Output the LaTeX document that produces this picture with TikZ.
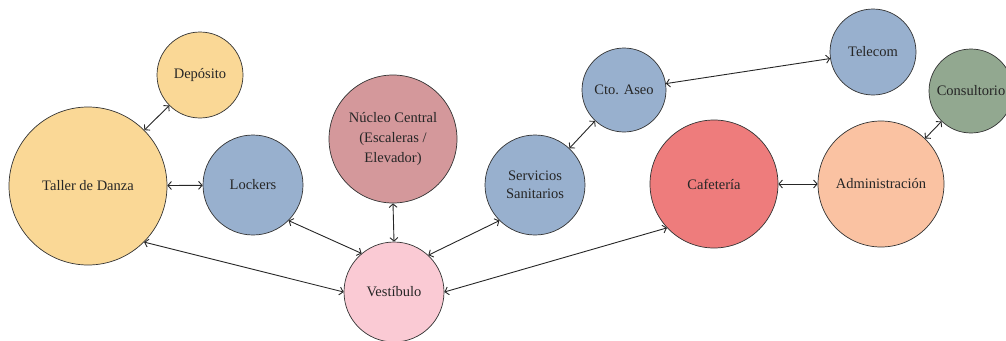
\documentclass[tikz,border=0pt]{standalone}
\usepackage{fontspec}
\setmainfont{Liberation Serif}
\usetikzlibrary{arrows.meta}
\definecolor{danza}{RGB}{250,216,150}
\definecolor{azul}{RGB}{152,176,206}
\definecolor{nucleo}{RGB}{212,152,155}
\definecolor{vestib}{RGB}{250,202,212}
\definecolor{cafe}{RGB}{238,124,124}
\definecolor{admin}{RGB}{250,194,162}
\definecolor{consult}{RGB}{146,168,144}

\begin{document}
\begin{tikzpicture}[x=1pt, y=-1pt,
        space/.style={circle, draw=black!80, line width=0.7pt, inner sep=0pt,
            align=center, font=\fontsize{14.5}{18}\selectfont, text=black!85},
        link/.style={<->, >={Straight Barb[length=3.5pt,width=8pt]}, draw=black!85, line width=0.9pt}]
        \useasboundingbox (0,0) rectangle (1006,340);
        \node[space, fill=danza, minimum size=86pt] (deposito) at (200,75) {Depósito};
        \node[space, fill=danza, minimum size=158pt] (taller) at (88,186) {Taller de Danza};
        \node[space, fill=azul, minimum size=100pt] (lockers) at (253,185) {Lockers};
        \node[space, fill=nucleo, minimum size=128pt, font=\fontsize{14.5}{20}\selectfont] (nucleo) at (393,139) {Núcleo Central\\(Escaleras /\\Elevador)};
        \node[space, fill=vestib, minimum size=100pt] (vestibulo) at (394,292) {Vestíbulo};
        \node[space, fill=azul, minimum size=100pt] (servicios) at (535,185) {Servicios\\Sanitarios};
        \node[space, fill=azul, minimum size=84pt] (aseo) at (624,90) {Cto. Aseo};
        \node[space, fill=azul, minimum size=86pt] (telecom) at (873,52) {Telecom};
        \node[space, fill=consult, minimum size=84pt] (consultorio) at (971,91) {Consultorio};
        \node[space, fill=cafe, minimum size=128pt] (cafeteria) at (714,184) {Cafetería};
        \node[space, fill=admin, minimum size=126pt] (admin) at (881,184) {Administración};
        \draw[link] (taller) -- (deposito);
        \draw[link] (taller) -- (lockers);
        \draw[link] (taller.-45) -- (vestibulo.west);
        \draw[link] (lockers.-45) -- (vestibulo.130);
        \draw[link] (nucleo.south) -- (vestibulo.north);
        \draw[link] (servicios.-135) -- (vestibulo.47);
        \draw[link] (servicios) -- (aseo);
        \draw[link] (aseo) -- (telecom);
        \draw[link] (vestibulo.east) -- (cafeteria.-137);
        \draw[link] (cafeteria) -- (admin);
        \draw[link] (admin) -- (consultorio);
    \end{tikzpicture}
\end{document}
